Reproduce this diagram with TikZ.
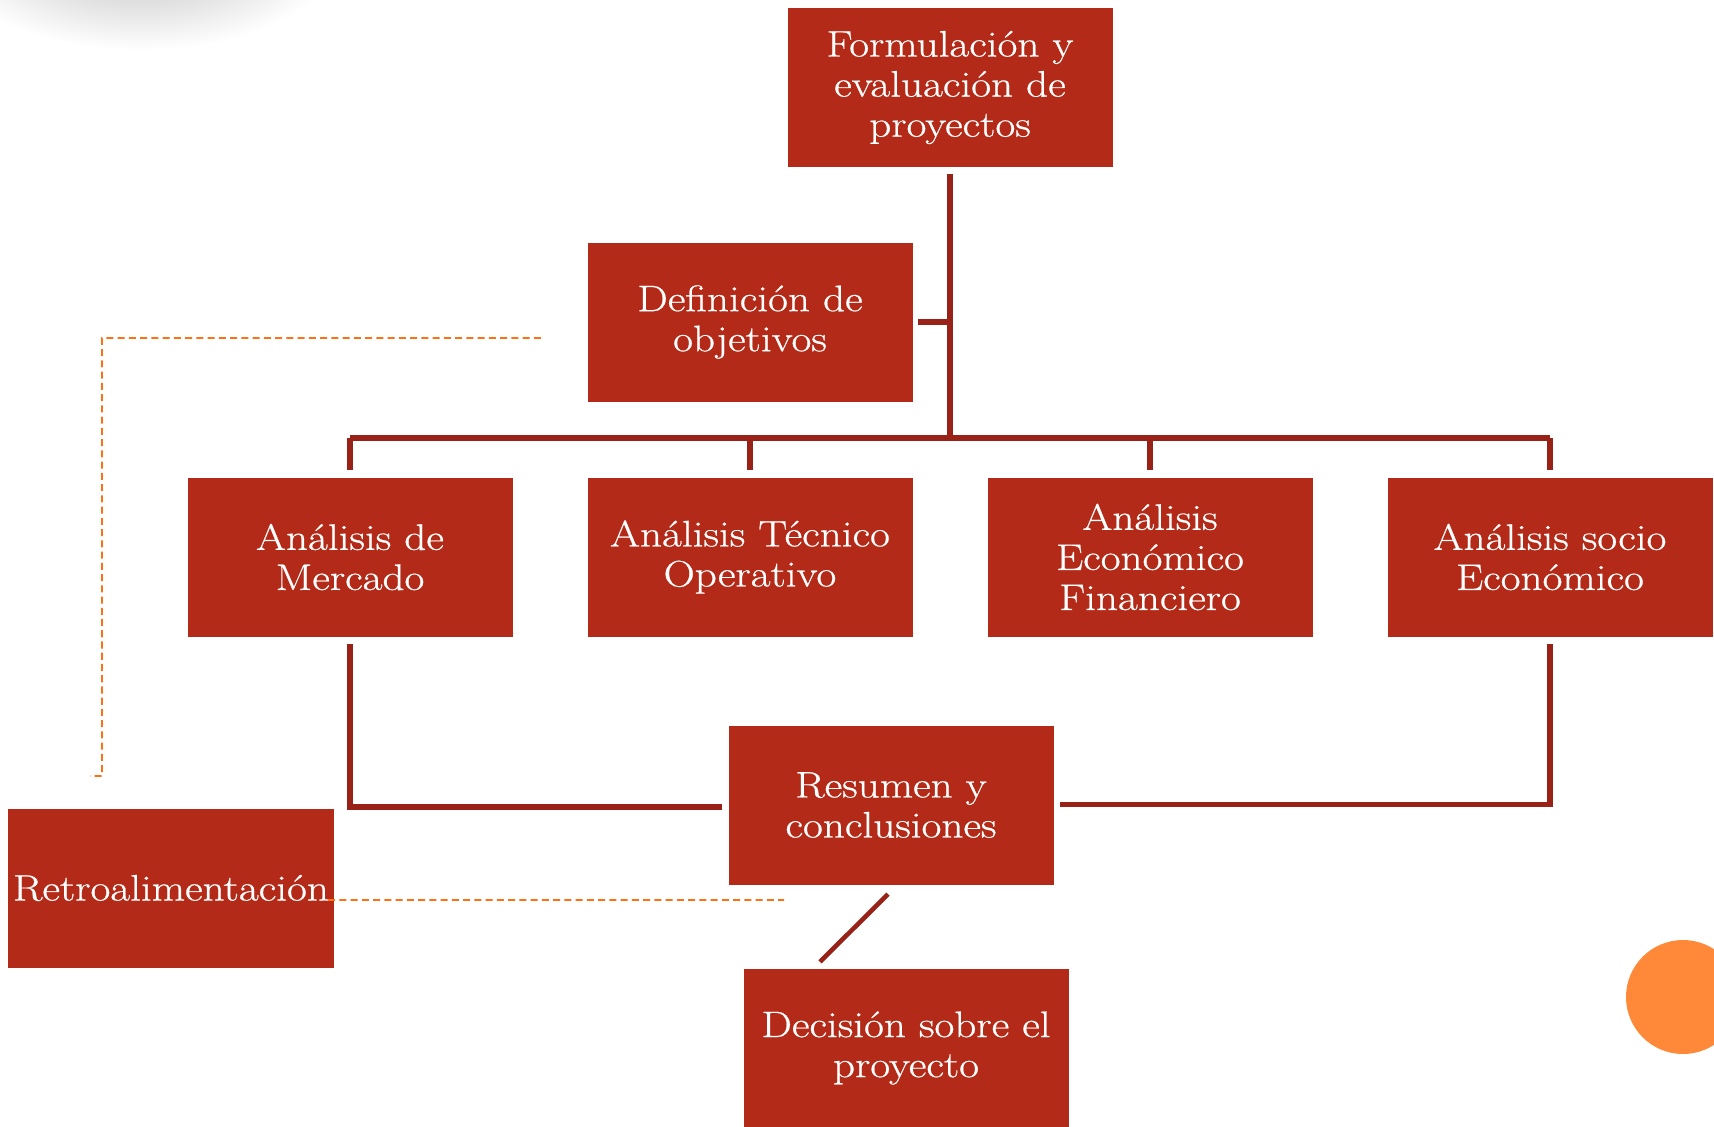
\documentclass[tikz,border=0pt]{standalone}
\usepackage{fontspec}
\setmainfont{Latin Modern Roman}[FakeStretch=1.17, FakeBold=0.6]
\usepackage{tikz}
\usetikzlibrary{positioning, calc}
\definecolor{boxred}{RGB}{179,43,24}
\definecolor{linkred}{RGB}{152,34,24}
\definecolor{fborange}{RGB}{255,112,20}
\definecolor{dotorange}{RGB}{255,137,56}

\begin{document}
\begin{tikzpicture}[node distance=8cm, auto, thick]
        % Define block styles
        \tikzstyle{block} = [rectangle, fill=boxred, text=white, minimum width=6.5cm, minimum height=3.18cm, inner sep=0pt, align=center, font=\fontsize{21}{22.8}\selectfont]
        \tikzstyle{link} = [draw=linkred, line width=3.4pt]
        \tikzstyle{feedback} = [draw=fborange, line width=1.1pt, dash pattern=on 4pt off 2.4pt]

        % Page frame
        \useasboundingbox (0,0) rectangle (34.28,-22.54);
        \begin{scope}
            \clip (0,0) rectangle (34.28,-22.54);
            \shade[inner color=black!26, outer color=white] (2.8,1.0) ellipse (4.0cm and 2.0cm);
            \fill[dotorange] (33.66,-19.94) circle (1.14cm);
        \end{scope}

        % Place nodes
        \node [block] (merc) at (7,-11.14) {Análisis de\\Mercado};
        \node [block, right of=merc] (tec) {Análisis Técnico\\Operativo};
        \node [block, right of=tec] (eco) {Análisis\\Económico\\Financiero};
        \node [block, right of=eco] (soc) {Análisis socio\\Económico};
        \node [block, above of=tec, yshift=-3.3cm] (def) {Definición de\\objetivos};
        \node [block, right of=def, xshift=-4cm, yshift=4.69cm] (form) {Formulación y\\evaluación de\\proyectos};
        \node [block, below of=tec, xshift=2.82cm, yshift=3.04cm] (res) {Resumen y\\conclusiones};
        \node [block, below of=res, xshift=0.3cm, yshift=3.14cm] (dec) {Decisión sobre el\\proyecto};
        \node [block] (retro) at (3.42,-17.76) {Retroalimentación};

        % Helper points
        \coordinate (bus) at ($(tec.north)+(0,0.78)$);
        \coordinate (fbtop) at ($(def.west)+(-0.92,-0.32)$);
        \coordinate (fbcorner) at (2.04,-6.76);
        \coordinate (fbfoot) at (2.04,-15.52);
        \coordinate (fbend) at (1.8,-15.52);
        \coordinate (fbright) at (15.68,-18.0);

        % Draw connections
        \draw [link] ([yshift=-0.12cm]form.south) -- (form.south |- bus);
        \draw [link] ([xshift=0.1cm]def.east) -- (def.east -| form.south);
        \draw [link] (merc.north |- bus) -- (soc.north |- bus);
        \foreach \n in {merc, tec, eco, soc}
            \draw [link] (\n.north |- bus) -- ([yshift=0.14cm]\n.north);
        \draw [link] ([yshift=-0.14cm]merc.south) |- ([xshift=-0.12cm,yshift=-0.04cm]res.west);
        \draw [link] ([yshift=-0.14cm]soc.south) |- ([xshift=0.12cm,yshift=0.01cm]res.east);
        \draw [link, line width=2.6pt] ([xshift=-0.06cm,yshift=-0.18cm]res.south) -- ([xshift=-1.72cm,yshift=0.12cm]dec.north);

        % Feedback loop
        \draw [feedback] (fbtop) -- (fbcorner) -- (fbfoot) -- (fbend);
        \draw [feedback] ([xshift=-0.12cm,yshift=-0.24cm]retro.east) -- (fbright);

\end{tikzpicture}
\end{document}
